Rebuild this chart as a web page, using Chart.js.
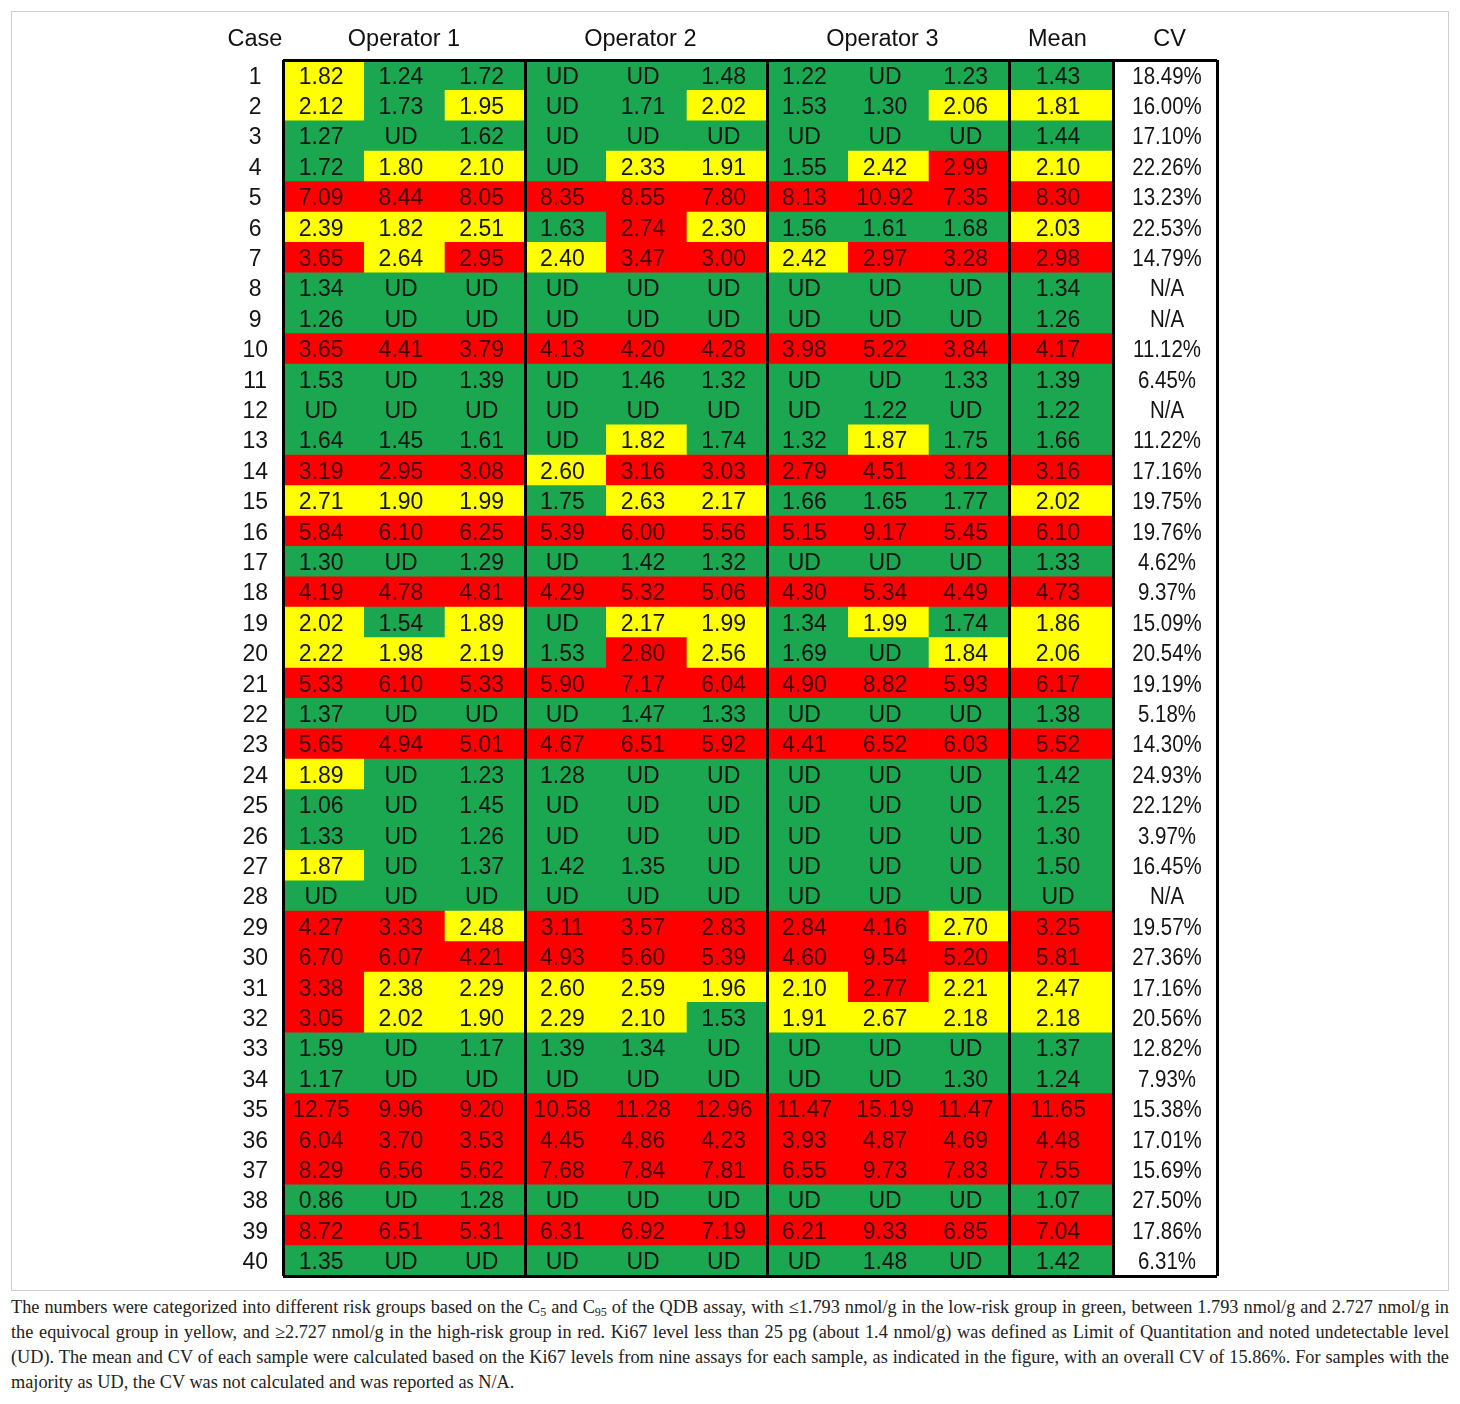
<!DOCTYPE html>
<html>
<head>
<meta charset="utf-8">
<script src="https://cdn.jsdelivr.net/npm/chart.js@4.4.1/dist/chart.umd.min.js"></script>
<style>
  body { margin: 0; background: #fff; width: 1460px; height: 1404px; position: relative; }
  #frame { position: absolute; left: 11px; top: 11px; width: 1438px; height: 1280px; box-sizing: border-box; border: 1px solid #cfcfcf; }
  #table { position: absolute; left: 0; top: 0; }
  #caption {
    position: absolute; left: 11px; top: 1295px; width: 1438px;
    font-family: "Liberation Serif", "Times New Roman", serif; font-size: 18.3px; line-height: 25px;
    color: #222;
  }
  #caption .ln { text-align: justify; text-align-last: justify; white-space: nowrap; }
  #caption .ln.last { text-align-last: left; }
  #caption sub { font-size: 12px; line-height: 0; vertical-align: -3px; }
</style>
</head>
<body>
<div id="frame"></div>
<canvas id="table" width="1460" height="1290"></canvas>
<div id="caption">
  <div class="ln">The numbers were categorized into different risk groups based on the C<sub>5</sub> and C<sub>95</sub> of the QDB assay, with ≤1.793 nmol/g in the low-risk group in green, between 1.793 nmol/g and 2.727 nmol/g in</div>
  <div class="ln">the equivocal group in yellow, and ≥2.727 nmol/g in the high-risk group in red. Ki67 level less than 25 pg (about 1.4 nmol/g) was defined as Limit of Quantitation and noted undetectable level</div>
  <div class="ln">(UD). The mean and CV of each sample were calculated based on the Ki67 levels from nine assays for each sample, as indicated in the figure, with an overall CV of 15.86%. For samples with the</div>
  <div class="ln last">majority as UD, the CV was not calculated and was reported as N/A.</div>
</div>
<script>
const cases = ["1","2","3","4","5","6","7","8","9","10","11","12","13","14","15","16","17","18","19","20",
  "21","22","23","24","25","26","27","28","29","30","31","32","33","34","35","36","37","38","39","40"]

const headers = ["Operator 1", "Operator 2", "Operator 3", "Mean", "CV"]

// null = UD (undetectable)
const operator1 = [
  [1.82, 1.24, 1.72], [2.12, 1.73, 1.95], [1.27, null, 1.62], [1.72, 1.80, 2.10], [7.09, 8.44, 8.05],
  [2.39, 1.82, 2.51], [3.65, 2.64, 2.95], [1.34, null, null], [1.26, null, null], [3.65, 4.41, 3.79],
  [1.53, null, 1.39], [null, null, null], [1.64, 1.45, 1.61], [3.19, 2.95, 3.08], [2.71, 1.90, 1.99],
  [5.84, 6.10, 6.25], [1.30, null, 1.29], [4.19, 4.78, 4.81], [2.02, 1.54, 1.89], [2.22, 1.98, 2.19],
  [5.33, 6.10, 5.33], [1.37, null, null], [5.65, 4.94, 5.01], [1.89, null, 1.23], [1.06, null, 1.45],
  [1.33, null, 1.26], [1.87, null, 1.37], [null, null, null], [4.27, 3.33, 2.48], [6.70, 6.07, 4.21],
  [3.38, 2.38, 2.29], [3.05, 2.02, 1.90], [1.59, null, 1.17], [1.17, null, null], [12.75, 9.96, 9.20],
  [6.04, 3.70, 3.53], [8.29, 6.56, 5.62], [0.86, null, 1.28], [8.72, 6.51, 5.31], [1.35, null, null],
]

const operator2 = [
  [null, null, 1.48], [null, 1.71, 2.02], [null, null, null], [null, 2.33, 1.91], [8.35, 8.55, 7.80],
  [1.63, 2.74, 2.30], [2.40, 3.47, 3.00], [null, null, null], [null, null, null], [4.13, 4.20, 4.28],
  [null, 1.46, 1.32], [null, null, null], [null, 1.82, 1.74], [2.60, 3.16, 3.03], [1.75, 2.63, 2.17],
  [5.39, 6.00, 5.56], [null, 1.42, 1.32], [4.29, 5.32, 5.06], [null, 2.17, 1.99], [1.53, 2.80, 2.56],
  [5.90, 7.17, 6.04], [null, 1.47, 1.33], [4.67, 6.51, 5.92], [1.28, null, null], [null, null, null],
  [null, null, null], [1.42, 1.35, null], [null, null, null], [3.11, 3.57, 2.83], [4.93, 5.60, 5.39],
  [2.60, 2.59, 1.96], [2.29, 2.10, 1.53], [1.39, 1.34, null], [null, null, null], [10.58, 11.28, 12.96],
  [4.45, 4.86, 4.23], [7.68, 7.84, 7.81], [null, null, null], [6.31, 6.92, 7.19], [null, null, null],
]

const operator3 = [
  [1.22, null, 1.23], [1.53, 1.30, 2.06], [null, null, null], [1.55, 2.42, 2.99], [8.13, 10.92, 7.35],
  [1.56, 1.61, 1.68], [2.42, 2.97, 3.28], [null, null, null], [null, null, null], [3.98, 5.22, 3.84],
  [null, null, 1.33], [null, 1.22, null], [1.32, 1.87, 1.75], [2.79, 4.51, 3.12], [1.66, 1.65, 1.77],
  [5.15, 9.17, 5.45], [null, null, null], [4.30, 5.34, 4.49], [1.34, 1.99, 1.74], [1.69, null, 1.84],
  [4.90, 8.82, 5.93], [null, null, null], [4.41, 6.52, 6.03], [null, null, null], [null, null, null],
  [null, null, null], [null, null, null], [null, null, null], [2.84, 4.16, 2.70], [4.60, 9.54, 5.20],
  [2.10, 2.77, 2.21], [1.91, 2.67, 2.18], [null, null, null], [null, null, 1.30], [11.47, 15.19, 11.47],
  [3.93, 4.87, 4.69], [6.55, 9.73, 7.83], [null, null, null], [6.21, 9.33, 6.85], [null, 1.48, null],
]

const meanValues = [1.43, 1.81, 1.44, 2.10, 8.30, 2.03, 2.98, 1.34, 1.26, 4.17,
  1.39, 1.22, 1.66, 3.16, 2.02, 6.10, 1.33, 4.73, 1.86, 2.06,
  6.17, 1.38, 5.52, 1.42, 1.25, 1.30, 1.50, null, 3.25, 5.81,
  2.47, 2.18, 1.37, 1.24, 11.65, 4.48, 7.55, 1.07, 7.04, 1.42]

// CV in percent, null = N/A
const cvValues = [18.49, 16.00, 17.10, 22.26, 13.23, 22.53, 14.79, null, null, 11.12,
  6.45, null, 11.22, 17.16, 19.75, 19.76, 4.62, 9.37, 15.09, 20.54,
  19.19, 5.18, 14.30, 24.93, 22.12, 3.97, 16.45, null, 19.57, 27.36,
  17.16, 20.56, 12.82, 7.93, 15.38, 17.01, 15.69, 27.50, 17.86, 6.31]

const lowCut = 1.793
const highCut = 2.727

// layout: column edges in "operator column" units (mean / CV columns are wider)
const colEdges = [0, 1, 2, 3, 4, 5, 6, 7, 8, 9, 10.289, 11.578]
const groupBreaks = [0, 3, 6, 9, 10.289, 11.578]
const headerCenters = [1.5, 4.43, 7.43, 9.6, 10.99]

const GREEN = "#1ba650"
const YELLOW = "#ffff00"
const RED = "#ff0000"

function riskColor(v) {
  if (v == null || v <= lowCut) return GREEN
  if (v < highCut) return YELLOW
  return RED
}

// build the 11 columns
const columns = []
;[operator1, operator2, operator3].forEach(op => {
  for (let k = 0; k < 3; k++) {
    columns.push({ kind: "op", values: op.map(row => row[k]) })
  }
})
columns.push({ kind: "mean", values: meanValues })
columns.push({ kind: "cv", values: cvValues })

const datasets = columns.map((col, c) => ({
  label: "col" + c,
  data: cases.map(() => [colEdges[c], colEdges[c + 1]]),
  cellValues: col.values,
  kind: col.kind,
  backgroundColor: ctx =>
    col.kind === "cv" ? "#ffffff" : riskColor(col.values[ctx.dataIndex]),
  borderWidth: 0,
  grouped: false,
  barPercentage: 1,
  categoryPercentage: 1,
}))

function cellText(kind, v) {
  if (kind === "cv") return v == null ? "N/A" : v.toFixed(2) + "%"
  return v == null ? "UD" : v.toFixed(2)
}

const cellLabels = {
  id: "cellLabels",
  afterDatasetsDraw(chart) {
    const ctx = chart.ctx
    ctx.save()
    ctx.font = "23px 'Liberation Sans', Arial, sans-serif"
    ctx.textAlign = "center"
    ctx.textBaseline = "middle"
    chart.data.datasets.forEach((ds, i) => {
      const meta = chart.getDatasetMeta(i)
      meta.data.forEach((bar, j) => {
        const v = ds.cellValues[j]
        const cx = (bar.x + bar.base) / 2
        if (ds.kind === "cv") {
          // CV column uses a narrower face
          ctx.save()
          ctx.fillStyle = "#141414"
          ctx.translate(cx + 2, bar.y + 2)
          ctx.scale(0.89, 1)
          ctx.fillText(cellText(ds.kind, v), 0, 0)
          ctx.restore()
          return
        }
        ctx.fillStyle = riskColor(v) === RED ? "#420000" : "#141414"
        ctx.fillText(cellText(ds.kind, v), cx - 3, bar.y + 2)
      })
    })
    ctx.restore()
  },
  afterDraw(chart) {
    const ctx = chart.ctx
    const xs = chart.scales.x
    ctx.save()
    ctx.font = "23.5px 'Liberation Sans', Arial, sans-serif"
    ctx.fillStyle = "#111"
    ctx.textAlign = "center"
    ctx.textBaseline = "alphabetic"
    ctx.fillText("Case", chart.chartArea.left - 28, 46)
    headers.forEach((h, i) => {
      ctx.fillText(h, xs.getPixelForValue(headerCenters[i]), 46)
    })
    ctx.restore()
  },
}

Chart.defaults.font.family = "'Liberation Sans', Arial, sans-serif"

new Chart(document.getElementById("table"), {
  type: "bar",
  data: { labels: cases, datasets: datasets },
  options: {
    indexAxis: "y",
    responsive: false,
    animation: false,
    devicePixelRatio: 1,
    layout: { padding: { top: 60, bottom: 14, left: 223, right: 243 } },
    plugins: { legend: { display: false }, tooltip: { enabled: false } },
    scales: {
      x: {
        type: "linear",
        min: 0,
        max: colEdges[colEdges.length - 1],
        afterBuildTicks: scale => {
          scale.ticks = groupBreaks.map(v => ({ value: v }))
        },
        afterFit: scale => {
          scale.height = 0
          scale.paddingLeft = 0
          scale.paddingRight = 0
        },
        ticks: { display: false, autoSkip: false },
        border: { display: false },
        grid: { color: "#000", lineWidth: 3, drawTicks: false, z: 1 },
      },
      y: {
        type: "category",
        afterFit: scale => {
          scale.width = 60
          // case labels must not shrink the table rows
          scale.paddingTop = 0
          scale.paddingBottom = 0
        },
        ticks: {
          crossAlign: "center",
          padding: 15,
          labelOffset: 2,
          color: "#141414",
          font: { size: 23 },
          autoSkip: false,
        },
        border: { display: false },
        grid: {
          offset: true,
          drawTicks: false,
          lineWidth: 3,
          z: 1,
          color: ctx =>
            ctx.type === "scale" || ctx.index === 0 ? "#000" : "rgba(0,0,0,0)",
        },
      },
    },
  },
  plugins: [cellLabels],
})
</script>
</body>
</html>
